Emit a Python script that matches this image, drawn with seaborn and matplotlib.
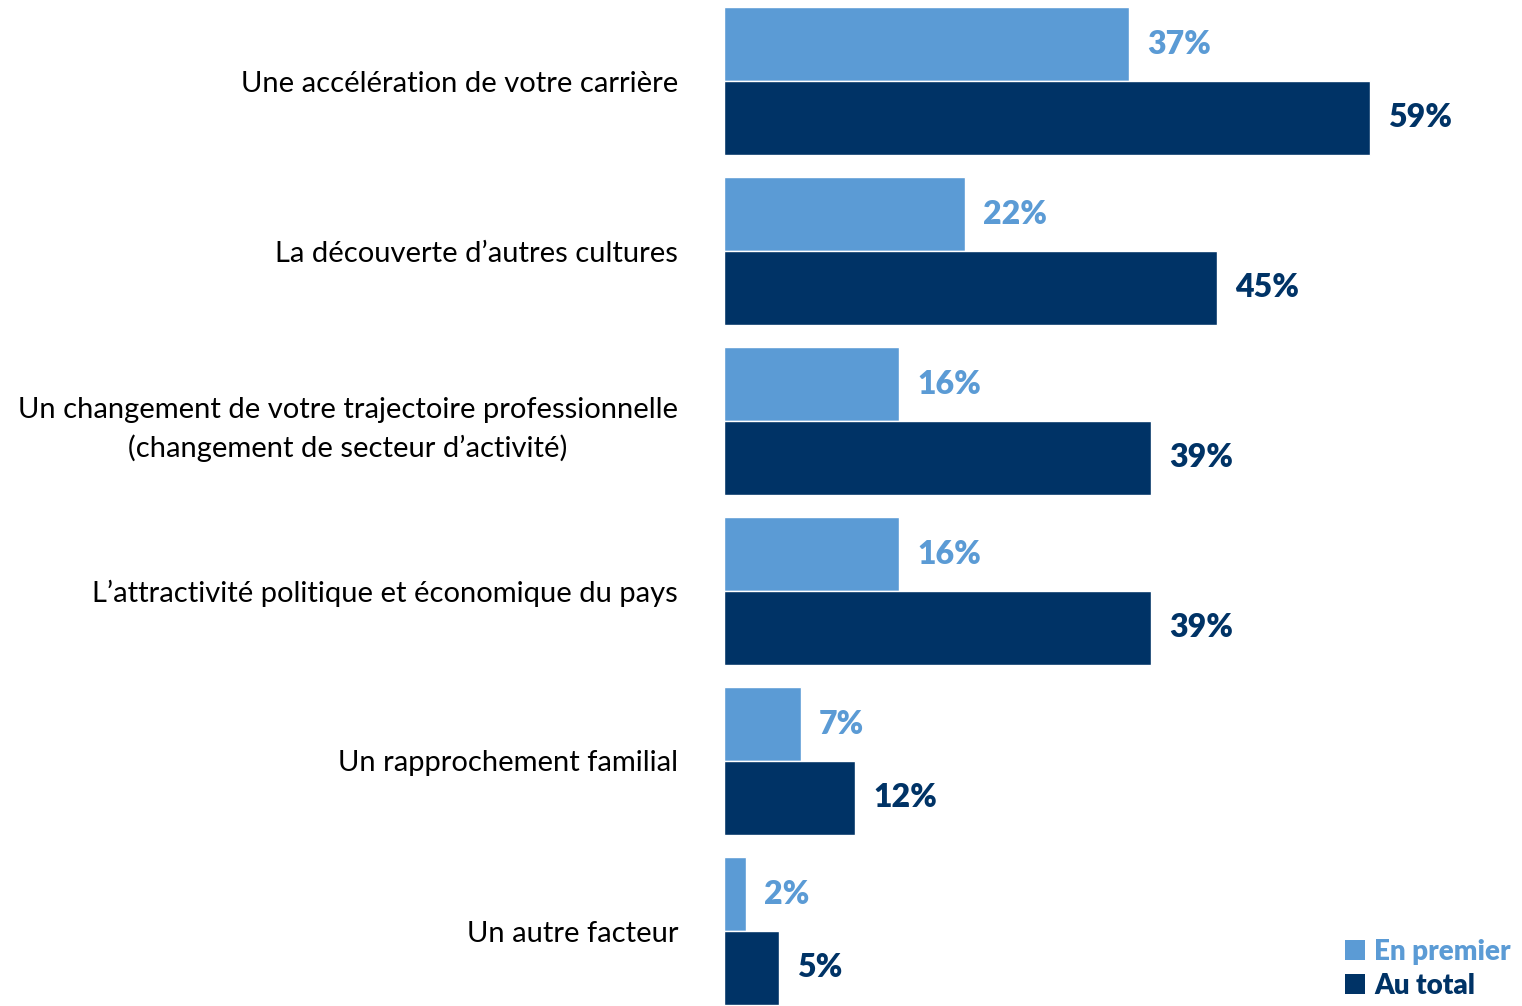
import matplotlib
matplotlib.use("Agg")
import matplotlib.pyplot as plt
import seaborn as sns
import pandas as pd
from matplotlib.patches import Patch

categories = [
    "Une accélération de votre carrière",
    "La découverte d\u2019autres cultures",
    "Un changement de votre trajectoire professionnelle\n(changement de secteur d\u2019activité)",
    "L\u2019attractivité politique et économique du pays",
    "Un rapprochement familial",
    "Un autre facteur",
]
series_names = ["En premier", "Au total"]
en_premier = [37, 22, 16, 16, 7, 2]
au_total = [59, 45, 39, 39, 12, 5]

colors = ["#5B9BD5", "#003366"]

df = pd.DataFrame({
    "cat": categories * 2,
    "serie": [series_names[0]] * len(categories) + [series_names[1]] * len(categories),
    "val": en_premier + au_total,
})

sns.set_theme(style="white")
plt.rcParams["font.family"] = ["Lato", "DejaVu Sans"]

fig = plt.figure(figsize=(15.22, 10.06), dpi=100)
ax = fig.add_axes([724 / 1522, 0, 1 - 724 / 1522, 1])

sns.barplot(data=df, y="cat", x="val", hue="serie", order=categories,
            hue_order=series_names, palette=colors, orient="h",
            width=0.87, ax=ax, legend=False, saturation=1)

ax.set_xlim(0, (1522 - 724) / 10.95)
ax.set_ylim((1006 - 81) / 170, -81 / 170)
ax.set_xlabel("")
ax.set_ylabel("")
ax.set_xticks([])
for s in ax.spines.values():
    s.set_visible(False)
ax.tick_params(axis="y", length=0, pad=33, labelsize=21)
for t in ax.get_yticklabels():
    t.set_multialignment("center")
    t.set_linespacing(1.5)
    t.set_color("#000000")

for container, col in zip(ax.containers, colors):
    labels = [f"{int(v)}%" for v in container.datavalues]
    ax.bar_label(container, labels=labels, padding=13, color=col,
                 fontsize=23, fontweight="heavy")

handles = [Patch(facecolor=c, edgecolor="none") for c in colors]
leg = ax.legend(handles, series_names, loc="lower right",
                bbox_to_anchor=(1.0, -0.004), frameon=False,
                prop={"size": 20, "weight": "heavy"}, handlelength=0.7,
                handleheight=0.7, handletextpad=0.35, labelspacing=0.3,
                borderaxespad=0)
for txt, c in zip(leg.get_texts(), colors):
    txt.set_color(c)

fig.savefig("out.png", dpi=100)
